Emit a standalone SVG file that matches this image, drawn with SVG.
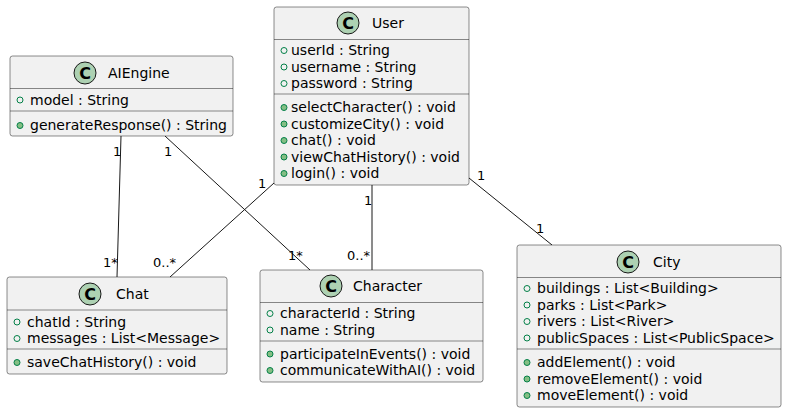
<svg xmlns="http://www.w3.org/2000/svg" width="787" height="413" viewBox="0 0 787 413">
<style>
text{font-family:"DejaVu Sans",sans-serif;font-size:14px;fill:#000}
.box{fill:#F1F1F1;stroke:#181818;stroke-width:0.5}
.sep{stroke:#181818;stroke-width:0.5}
.ci{fill:#ADD1B2;stroke:#181818;stroke-width:1}
.cl{font-weight:bold;font-size:16px}
.f{fill:none;stroke:#038048;stroke-width:1}
.m{fill:#84BE84;stroke:#038048;stroke-width:1}
.lk{stroke:#181818;stroke-width:1;fill:none}
.lb{font-size:13px}
</style>
<rect width="787" height="413" fill="#FFFFFF"/>
<g id="connectors">
<line class="lk" x1="121" y1="136" x2="117" y2="277"/>
<line class="lk" x1="165" y1="136" x2="310" y2="270"/>
<line class="lk" x1="274" y1="183" x2="170" y2="277"/>
<line class="lk" x1="372" y1="185" x2="372" y2="270"/>
<line class="lk" x1="469" y1="178" x2="552" y2="245"/>
<text class="lb" x="113" y="156">1</text>
<text class="lb" x="103" y="267">1*</text>
<text class="lb" x="164" y="156">1</text>
<text class="lb" x="288" y="260">1*</text>
<text class="lb" x="258" y="188">1</text>
<text class="lb" x="153" y="267">0..*</text>
<text class="lb" x="364" y="205">1</text>
<text class="lb" x="347" y="260">0..*</text>
<text class="lb" x="477" y="180">1</text>
<text class="lb" x="536" y="233">1</text>
</g>
<g id="User">
<rect class="box" x="274" y="7" width="195" height="178" rx="2.5"/>
<circle class="ci" cx="348" cy="23" r="11"/>
<text class="cl" x="348" y="28.5" text-anchor="middle">C</text>
<text x="372" y="28">User</text>
<line class="sep" x1="274" y1="39.5" x2="469" y2="39.5"/>
<circle class="f" cx="284" cy="50.5" r="3"/><text x="291" y="55">userId : String</text>
<circle class="f" cx="284" cy="67" r="3"/><text x="291" y="71.5">username : String</text>
<circle class="f" cx="284" cy="83.5" r="3"/><text x="291" y="88">password : String</text>
<line class="sep" x1="274" y1="94" x2="469" y2="94"/>
<circle class="m" cx="284" cy="107.5" r="3"/><text x="291" y="112">selectCharacter() : void</text>
<circle class="m" cx="284" cy="124" r="3"/><text x="291" y="128.5">customizeCity() : void</text>
<circle class="m" cx="284" cy="140.5" r="3"/><text x="291" y="145">chat() : void</text>
<circle class="m" cx="284" cy="157" r="3"/><text x="291" y="161.5">viewChatHistory() : void</text>
<circle class="m" cx="284" cy="173.5" r="3"/><text x="291" y="178">login() : void</text>
</g>
<g id="AIEngine">
<rect class="box" x="10" y="56" width="223" height="80" rx="2.5"/>
<circle class="ci" cx="85" cy="73" r="11"/>
<text class="cl" x="85" y="78.5" text-anchor="middle">C</text>
<text x="108" y="78">AIEngine</text>
<line class="sep" x1="10" y1="88.5" x2="233" y2="88.5"/>
<circle class="f" cx="20" cy="100" r="3"/><text x="30" y="104.5">model : String</text>
<line class="sep" x1="10" y1="111" x2="233" y2="111"/>
<circle class="m" cx="20" cy="125.5" r="3"/><text x="30" y="130">generateResponse() : String</text>
</g>
<g id="Chat">
<rect class="box" x="7" y="277" width="220" height="97" rx="2.5"/>
<circle class="ci" cx="90" cy="294" r="11"/>
<text class="cl" x="90" y="299.5" text-anchor="middle">C</text>
<text x="116" y="299">Chat</text>
<line class="sep" x1="7" y1="310" x2="227" y2="310"/>
<circle class="f" cx="17" cy="322" r="3"/><text x="27" y="326.5">chatId : String</text>
<circle class="f" cx="17" cy="338.5" r="3"/><text x="27" y="343">messages : List&lt;Message&gt;</text>
<line class="sep" x1="7" y1="349" x2="227" y2="349"/>
<circle class="m" cx="17" cy="362.5" r="3"/><text x="27" y="367">saveChatHistory() : void</text>
</g>
<g id="Character">
<rect class="box" x="260" y="270" width="223" height="112" rx="2.5"/>
<circle class="ci" cx="331" cy="286" r="11"/>
<text class="cl" x="331" y="291.5" text-anchor="middle">C</text>
<text x="353" y="291">Character</text>
<line class="sep" x1="260" y1="302.5" x2="483" y2="302.5"/>
<circle class="f" cx="270" cy="313.5" r="3"/><text x="280" y="318">characterId : String</text>
<circle class="f" cx="270" cy="330" r="3"/><text x="280" y="334.5">name : String</text>
<line class="sep" x1="260" y1="341" x2="483" y2="341"/>
<circle class="m" cx="270" cy="354" r="3"/><text x="280" y="358.5">participateInEvents() : void</text>
<circle class="m" cx="270" cy="370.5" r="3"/><text x="280" y="375">communicateWithAI() : void</text>
</g>
<g id="City">
<rect class="box" x="517" y="245" width="264" height="162" rx="2.5"/>
<circle class="ci" cx="628" cy="262" r="11"/>
<text class="cl" x="628" y="267.5" text-anchor="middle">C</text>
<text x="653" y="267">City</text>
<line class="sep" x1="517" y1="277.5" x2="781" y2="277.5"/>
<circle class="f" cx="527" cy="288.5" r="3"/><text x="537" y="293">buildings : List&lt;Building&gt;</text>
<circle class="f" cx="527" cy="305" r="3"/><text x="537" y="309.5">parks : List&lt;Park&gt;</text>
<circle class="f" cx="527" cy="321.5" r="3"/><text x="537" y="326">rivers : List&lt;River&gt;</text>
<circle class="f" cx="527" cy="338" r="3"/><text x="537" y="342.5">publicSpaces : List&lt;PublicSpace&gt;</text>
<line class="sep" x1="517" y1="349" x2="781" y2="349"/>
<circle class="m" cx="527" cy="362.5" r="3"/><text x="537" y="367">addElement() : void</text>
<circle class="m" cx="527" cy="379" r="3"/><text x="537" y="383.5">removeElement() : void</text>
<circle class="m" cx="527" cy="395.5" r="3"/><text x="537" y="400">moveElement() : void</text>
</g>
</svg>
